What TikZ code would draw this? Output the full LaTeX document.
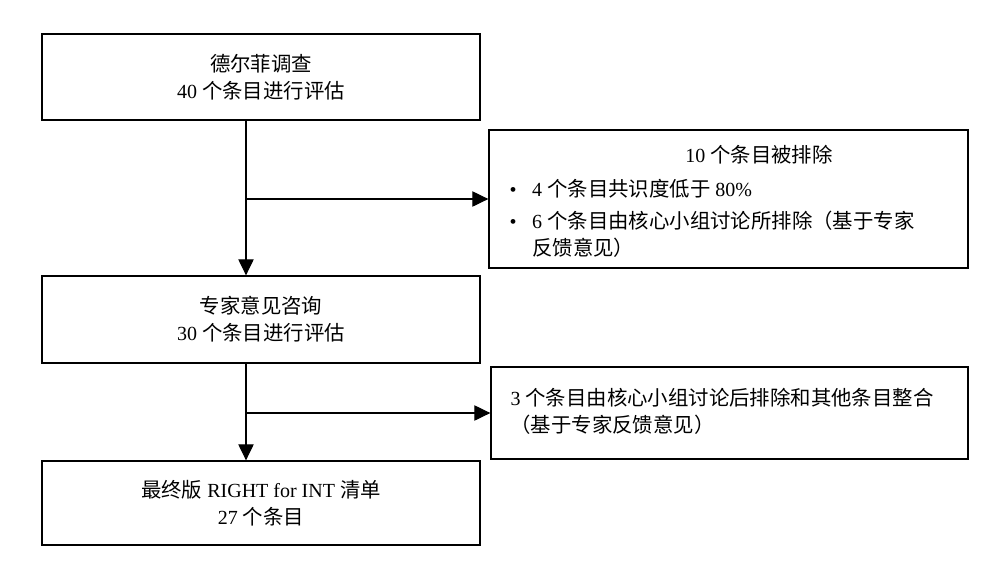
\documentclass[tikz,border=0pt]{standalone}
\usepackage{fontspec}
\setmainfont{Liberation Serif}
\newfontfamily\cjk{Noto Sans CJK SC}[Scale=1.02]
\newcommand{\zh}[1]{{\cjk #1}}
\newcommand{\itm}{\makebox[17pt][l]{•}}
\usetikzlibrary{arrows.meta}

\begin{document}
\begin{tikzpicture}[x=0.75pt, y=-0.75pt, line width=0.8pt,
  font=\fontsize{15}{20.25}\selectfont,
  box/.style={draw, line width=1pt, align=center, inner sep=0pt},
  flow/.style={-{Triangle[length=12pt, width=11.5pt]}}]
  \useasboundingbox (0,0) rectangle (1007,579); % 여백 포함
  \node[box, minimum width=328.5pt, minimum height=64.5pt] (delphi) at (261,77)
    {\zh{德尔菲调查}\\40 \zh{个条目进行评估}};
  \node[box, minimum width=328.5pt, minimum height=65.25pt] (expert) at (261,319.5)
    {\zh{专家意见咨询}\\30 \zh{个条目进行评估}};
  \node[box, minimum width=328.5pt, minimum height=63pt] (final) at (261,503)
    {\zh{最终版} RIGHT for INT \zh{清单}\\27 \zh{个条目}};
  \node[box, minimum width=359.25pt, minimum height=103.5pt] (excl1) at (728.5,199) {};
  \node[box, minimum width=357.75pt, minimum height=69pt] (excl2) at (729.5,413) {};
  \node (excl1title) at (759,155) {10 \zh{个条目被排除}};
  \node[anchor=west, align=left, inner sep=0pt] (excl1list) at (509,218)
    {\itm 4 \zh{个条目共识度低于} 80\%\\[3.75pt]
     \itm 6 \zh{个条目由核心小组讨论所排除（基于专家}\\
     \hspace*{17pt}\zh{反馈意见）}};
  \node[anchor=west, align=left, inner sep=0pt] (excl2txt) at (510,411)
    {3 \zh{个条目由核心小组讨论后排除和其他条目整合}\\
     \zh{（基于专家反馈意见）}};
  \coordinate (j1) at (246,199);
  \coordinate (j2) at (246,413);
  \draw[flow] (j1 |- delphi.south) -- (j1 |- expert.north);
  \draw[flow] (j1) -- (excl1.west);
  \draw[flow] (j2 |- expert.south) -- (j2 |- final.north);
  \draw[flow] (j2) -- (excl2.west);
\end{tikzpicture}
\end{document}
